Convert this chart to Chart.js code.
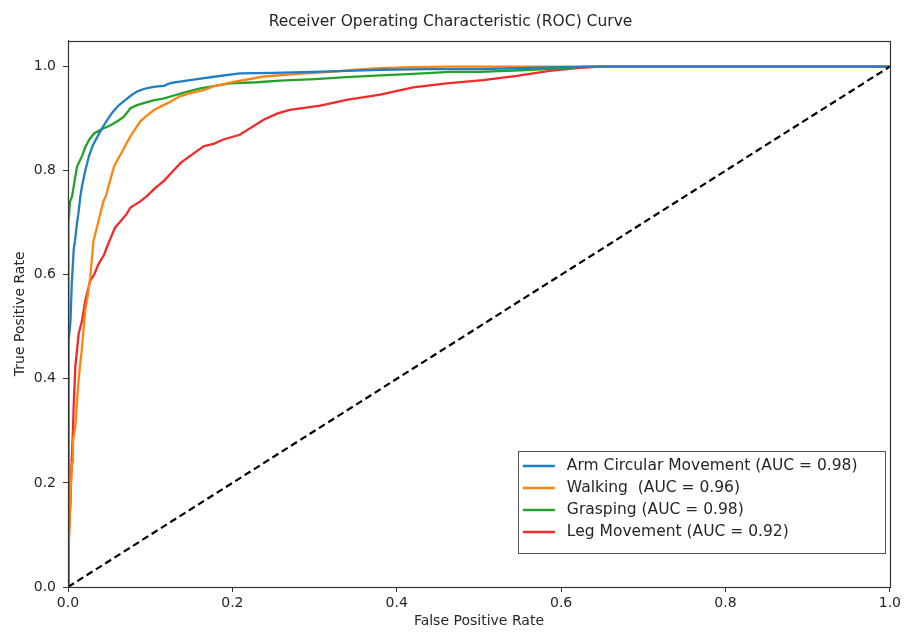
<!DOCTYPE html>
<html><head><meta charset="utf-8">
<script src="https://cdn.jsdelivr.net/npm/chart.js@4.4.1/dist/chart.umd.min.js"></script>
<style>html,body{margin:0;padding:0;background:#fff;}#wrap{width:904px;height:634px;position:relative;}</style>
</head><body><div id="wrap"><canvas id="c" width="904" height="634"></canvas></div>
<script>
// ---- data ----
const xTicks = [0, 0.2, 0.4, 0.6, 0.8, 1.0];
const yTicks = [0, 0.2, 0.4, 0.6, 0.8, 1.0];
const seriesNames = ["Arm Circular Movement (AUC = 0.98)", "Walking  (AUC = 0.96)", "Grasping (AUC = 0.98)", "Leg Movement (AUC = 0.92)"];

const armFpr = [0, 0, 0.001, 0.003, 0.0045, 0.007, 0.0085, 0.011, 0.0125, 0.015, 0.017, 0.021, 0.0255, 0.030, 0.036, 0.042, 0.048, 0.054, 0.060, 0.065, 0.070, 0.077, 0.084, 0.092, 0.101, 0.109, 0.117, 0.122, 0.127, 0.136, 0.157, 0.180, 0.209, 0.25, 0.298, 0.34, 0.380, 0.44, 0.501, 0.55, 0.60, 0.65, 1.0];
const armTpr = [0, 0.40, 0.47, 0.51, 0.58, 0.65, 0.665, 0.70, 0.716, 0.75, 0.77, 0.80, 0.828, 0.848, 0.866, 0.883, 0.898, 0.912, 0.923, 0.930, 0.936, 0.945, 0.952, 0.957, 0.960, 0.962, 0.963, 0.967, 0.969, 0.971, 0.976, 0.981, 0.987, 0.988, 0.990, 0.992, 0.994, 0.995, 0.995, 0.997, 0.999, 1.0, 1.0];

const walkFpr = [0, 0.001, 0.003, 0.005, 0.006, 0.009, 0.013, 0.017, 0.021, 0.024, 0.027, 0.031, 0.037, 0.043, 0.046, 0.051, 0.056, 0.061, 0.066, 0.071, 0.076, 0.082, 0.088, 0.096, 0.105, 0.115, 0.125, 0.136, 0.149, 0.165, 0.177, 0.2, 0.238, 0.28, 0.319, 0.35, 0.380, 0.42, 0.461, 1.0];
const walkTpr = [0, 0.08, 0.18, 0.24, 0.28, 0.31, 0.40, 0.46, 0.531, 0.56, 0.594, 0.665, 0.703, 0.741, 0.751, 0.78, 0.808, 0.823, 0.837, 0.852, 0.866, 0.881, 0.895, 0.906, 0.917, 0.925, 0.933, 0.943, 0.949, 0.955, 0.962, 0.970, 0.981, 0.986, 0.990, 0.994, 0.997, 0.999, 1.0, 1.0];

const graspFpr = [0, 0, 0.001, 0.0024, 0.005, 0.008, 0.011, 0.017, 0.021, 0.026, 0.032, 0.038, 0.044, 0.050, 0.056, 0.062, 0.068, 0.072, 0.076, 0.084, 0.092, 0.104, 0.117, 0.130, 0.141, 0.161, 0.197, 0.23, 0.258, 0.30, 0.339, 0.38, 0.42, 0.465, 0.501, 0.55, 0.607, 0.63, 1.0];
const graspTpr = [0, 0.66, 0.70, 0.74, 0.751, 0.78, 0.808, 0.828, 0.845, 0.860, 0.872, 0.877, 0.882, 0.886, 0.891, 0.897, 0.904, 0.912, 0.920, 0.926, 0.930, 0.935, 0.939, 0.945, 0.950, 0.958, 0.968, 0.970, 0.973, 0.976, 0.980, 0.983, 0.986, 0.990, 0.990, 0.993, 0.997, 1.0, 1.0];

const legFpr = [0, 0.001, 0.002, 0.003, 0.004, 0.006, 0.007, 0.009, 0.013, 0.015, 0.017, 0.021, 0.023, 0.027, 0.032, 0.037, 0.044, 0.047, 0.052, 0.057, 0.064, 0.071, 0.076, 0.088, 0.096, 0.105, 0.117, 0.127, 0.137, 0.150, 0.165, 0.178, 0.189, 0.209, 0.238, 0.255, 0.270, 0.307, 0.339, 0.380, 0.420, 0.461, 0.505, 0.546, 0.586, 0.619, 0.647, 1.0];
const legTpr = [0, 0.096, 0.13, 0.161, 0.224, 0.30, 0.352, 0.425, 0.487, 0.499, 0.511, 0.550, 0.563, 0.588, 0.601, 0.620, 0.639, 0.652, 0.671, 0.690, 0.703, 0.716, 0.729, 0.741, 0.751, 0.765, 0.781, 0.798, 0.815, 0.830, 0.847, 0.852, 0.860, 0.869, 0.898, 0.910, 0.917, 0.925, 0.936, 0.946, 0.960, 0.968, 0.974, 0.982, 0.992, 0.997, 1.0, 1.0];

const diagX = [0, 1];
const diagY = [0, 1];
// ----------------------------------------

const FONT = "'DejaVu Sans', 'Liberation Sans', sans-serif";
const TXT = '#262626';
function pts(xs, ys) { return xs.map((x, i) => ({x: x, y: ys[i]})); }
const colors = ['#1f7fc4', '#ff8412', '#22a22a', '#f22a2a'];
const sets = [[armFpr, armTpr], [walkFpr, walkTpr], [graspFpr, graspTpr], [legFpr, legTpr]];

const datasets = sets.map((s, i) => ({
  label: seriesNames[i], data: pts(s[0], s[1]), borderColor: colors[i], backgroundColor: colors[i],
  borderWidth: 2.3, pointRadius: 0, showLine: true, tension: 0, fill: false, order: 2
}));
datasets.push({
  label: '', data: pts(diagX, diagY), borderColor: '#000', borderWidth: 2.2, borderDash: [7, 4],
  pointRadius: 0, showLine: true, tension: 0, fill: false, order: 1
});

const framePlugin = {
  id: 'frame',
  afterDatasetsDraw(chart) {
    const {ctx, chartArea: a} = chart;
    ctx.save();
    ctx.strokeStyle = '#333'; ctx.lineWidth = 1.2;
    ctx.strokeRect(Math.round(a.left) + 0.5, Math.round(a.top) + 0.5, Math.round(a.right - a.left), Math.round(a.bottom - a.top));
    ctx.restore();
  }
};

const legendPlugin = {
  id: 'insideLegend',
  afterDraw(chart) {
    const {ctx, chartArea: a} = chart;
    const items = chart.data.datasets.filter(d => d.label);
    const rowH = 22, boxW = 367, boxH = 102;
    const right = a.right - 5, bottom = a.bottom - 34;
    const left = right - boxW, top = bottom - boxH;
    ctx.save();
    ctx.fillStyle = 'rgba(255,255,255,0.9)';
    ctx.fillRect(left, top, boxW, boxH);
    ctx.strokeStyle = '#555'; ctx.lineWidth = 1;
    ctx.strokeRect(Math.round(left) + 0.5, Math.round(top) + 0.5, boxW, boxH);
    ctx.font = '15.5px ' + FONT;
    ctx.textBaseline = 'middle'; ctx.textAlign = 'left';
    items.forEach((d, i) => {
      const y = top + 15 + i * rowH;
      ctx.strokeStyle = d.borderColor; ctx.lineWidth = 2.3;
      ctx.beginPath(); ctx.moveTo(left + 5, y); ctx.lineTo(left + 37, y); ctx.stroke();
      ctx.fillStyle = TXT;
      ctx.fillText(d.label, left + 49, y);
    });
    ctx.restore();
  }
};

new Chart(document.getElementById('c'), {
  type: 'scatter',
  data: { datasets: datasets },
  plugins: [framePlugin, legendPlugin],
  options: {
    responsive: false, animation: false, devicePixelRatio: 1,
    layout: { padding: { left: 0, right: 3, top: 0, bottom: 4 } },
    plugins: {
      legend: { display: false },
      tooltip: { enabled: false },
      title: { display: true, text: 'Receiver Operating Characteristic (ROC) Curve', color: TXT,
               font: { family: FONT, size: 15.5, weight: 'normal' }, padding: { top: 13, bottom: 9 } }
    },
    scales: {
      x: {
        type: 'linear', min: 0, max: 1,
        afterBuildTicks: s => { s.ticks = xTicks.map(v => ({value: v})); },
        afterFit: s => { s.height = 43; },
        ticks: { color: TXT, font: { family: FONT, size: 14 }, padding: 3, maxRotation: 0, callback: v => Number(v).toFixed(1) },
        grid: { display: true, drawOnChartArea: false, drawTicks: true, tickLength: 5, tickColor: '#333' },
        border: { display: true, color: '#333', width: 1 },
        title: { display: true, text: 'False Positive Rate', color: TXT, font: { family: FONT, size: 14 }, padding: { top: 0, bottom: 0 } }
      },
      y: {
        type: 'linear', min: 0, max: 1.05,
        afterBuildTicks: s => { s.ticks = yTicks.map(v => ({value: v})); },
        afterFit: s => { s.width = 68; },
        ticks: { color: TXT, font: { family: FONT, size: 14 }, padding: 7, callback: v => Number(v).toFixed(1) },
        grid: { display: true, drawOnChartArea: false, drawTicks: true, tickLength: 5, tickColor: '#333' },
        border: { display: true, color: '#333', width: 1 },
        title: { display: true, text: 'True Positive Rate', color: TXT, font: { family: FONT, size: 14 }, padding: { top: 12, bottom: 0 } }
      }
    }
  }
});
</script>
</body></html>
